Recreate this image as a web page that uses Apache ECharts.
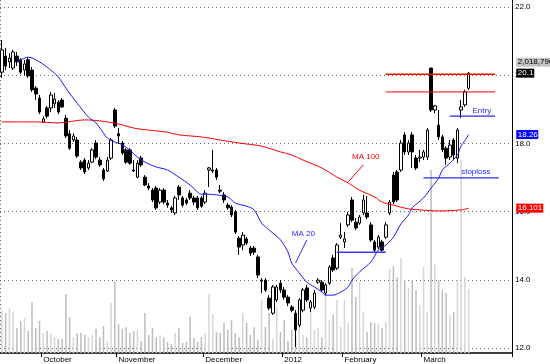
<!DOCTYPE html>
<html><head><meta charset="utf-8">
<script src="https://cdn.jsdelivr.net/npm/echarts@6/dist/echarts.min.js"></script>
<style>html,body{margin:0;padding:0;background:#fff}#c{width:550px;height:364px}</style>
</head><body><div id="c"></div>
<script>
// ---- data ----
const slotCount = 136; // trading-day slots on the x axis (last ones empty)
const categories = Array.from({length: slotCount}, (_, i) => 'd' + i);
const monthIdx = [11, 31, 54, 75, 91, 112];
const monthLabels = ['October', 'November', 'December', '2012', 'February', 'March'];
const yearLineIdx = 75;

const opens = [20.09,20.56,20.39,20.21,20.56,20.45,20.15,20.45,20.15,19.62,19.33,18.63,19.04,19.04,19.16,19.21,19.27,18.74,18.28,18.10,
18.10,17.45,17.51,17.28,17.45,18.01,17.51,17.22,17.19,17.57,18.98,18.28,18.01,17.81,17.81,17.22,17.01,17.57,17.01,16.75,
16.63,16.69,16.28,16.63,16.25,16.11,15.96,16.72,16.40,16.34,16.54,16.40,16.40,16.40,16.28,17.22,17.19,17.22,16.63,16.49,
16.19,16.13,15.99,15.22,15.02,15.20,14.93,14.93,14.67,13.96,13.99,13.46,13.02,13.41,13.90,13.70,13.49,13.20,13.02,12.67,
13.11,13.76,13.17,13.20,13.93,13.93,13.61,13.90,14.64,14.34,15.25,15.11,15.61,16.34,15.69,15.66,15.96,15.96,15.61,15.11,
14.96,15.11,15.25,15.96,17.07,17.16,17.22,18.25,17.75,18.25,17.57,17.57,17.60,17.60,20.21,18.98,18.54,18.19,17.86,17.60,
18.10,17.57,18.98,19.13,19.62];
const closes = [20.74,20.27,20.50,20.68,20.39,20.09,20.33,19.98,19.57,19.45,18.92,18.72,18.80,19.42,19.30,18.92,19.07,18.22,17.86,18.22,
17.63,17.28,17.16,17.42,17.81,17.60,17.37,16.96,17.51,18.10,18.51,18.22,17.72,17.45,17.42,17.19,17.42,17.37,16.78,16.69,
16.34,16.11,16.63,16.28,16.19,16.05,16.40,16.49,16.19,16.25,16.40,16.28,16.11,16.16,16.54,17.28,17.22,17.01,16.60,16.34,
16.11,15.90,15.40,14.96,15.31,15.08,14.78,14.81,14.14,13.99,13.70,13.17,13.79,13.79,13.70,13.49,13.32,13.11,12.53,13.41,
13.70,13.41,13.35,13.61,13.99,13.70,13.85,14.37,14.29,15.02,15.31,15.20,15.90,15.75,15.52,15.84,16.34,15.84,15.17,14.87,
15.25,14.87,15.61,16.28,16.28,16.34,18.01,17.75,18.01,17.75,17.28,17.60,17.75,18.39,18.98,19.10,18.19,17.81,17.57,17.95,
17.66,18.39,19.07,19.51,20.06];
const lows = [19.92,20.15,20.21,20.15,20.27,20.03,20.00,19.92,19.51,19.27,18.86,18.60,18.74,18.92,19.04,18.86,19.04,18.16,17.81,18.04,
17.57,17.22,17.10,17.22,17.42,17.54,17.31,16.90,17.16,17.51,18.45,17.98,17.66,17.40,17.37,17.16,16.98,17.31,16.75,16.63,
16.28,16.05,16.22,16.22,16.11,15.96,15.90,16.34,16.13,16.19,16.34,16.19,16.05,16.11,16.22,16.72,17.13,16.93,16.54,16.25,
16.05,15.84,15.34,14.73,14.87,15.02,14.70,14.73,14.05,13.61,13.64,13.11,12.97,13.35,13.61,13.41,13.23,13.05,12.03,12.61,
13.05,13.35,13.05,13.14,13.88,13.64,13.55,13.85,14.23,14.29,15.20,14.93,15.55,15.69,15.46,15.61,15.90,15.78,15.11,14.81,
14.90,14.81,15.20,15.90,16.22,16.28,17.16,17.66,17.66,17.28,17.22,17.45,17.51,17.51,18.92,18.89,18.10,17.75,17.37,17.51,
17.51,17.42,18.74,19.07,19.57];
const highs = [21.03,20.80,20.65,20.74,20.68,20.50,20.45,20.53,20.24,19.68,19.42,18.80,19.10,19.51,19.48,19.27,19.33,18.83,18.39,18.30,
18.19,17.51,17.57,17.51,17.86,18.10,17.60,17.28,17.60,18.16,19.04,18.45,18.07,17.86,17.86,17.51,17.51,17.63,17.07,16.84,
16.69,16.75,16.69,16.69,16.34,16.16,16.46,16.78,16.46,16.40,16.63,16.46,16.46,16.46,16.63,17.31,17.81,17.28,16.78,16.57,
16.25,16.19,16.05,15.28,15.40,15.25,14.99,14.99,14.73,14.05,14.05,13.55,13.85,13.85,13.99,13.79,13.55,13.26,13.11,13.46,
13.76,13.85,13.41,13.70,14.05,13.99,13.90,14.43,14.73,15.08,15.66,15.40,15.99,16.43,15.81,15.90,16.49,16.46,15.69,15.17,
15.31,15.17,15.69,16.34,17.16,17.22,18.10,18.33,18.10,18.33,17.66,17.81,17.81,18.45,20.21,19.13,18.98,18.25,17.92,18.10,
18.16,18.45,19.27,19.57,20.09];
// volume in millions of shares
const volumes = [1.36,1.26,1.42,1.32,0.79,1.01,1.10,0.69,1.61,0.79,1.01,0.63,0.69,0.60,0.50,0.44,0.44,1.86,1.14,0.50,
0.63,0.63,0.57,0.50,0.57,0.76,0.50,0.85,0.38,1.58,2.24,0.91,0.76,0.82,0.63,0.69,0.73,0.38,1.26,0.57,
0.79,0.50,0.57,0.50,0.35,0.28,0.63,0.79,0.32,0.35,1.14,0.47,0.35,0.50,0.63,1.86,1.23,0.66,0.63,0.95,
0.73,1.04,0.63,0.50,1.26,0.95,0.57,0.82,0.41,1.67,0.82,1.26,0.44,1.45,0.66,1.04,0.38,0.73,0.50,1.04,
0.57,0.50,1.26,0.73,0.79,0.50,1.89,1.04,1.20,1.67,0.82,1.67,0.95,2.68,1.77,2.24,1.29,0.66,0.98,0.95,
0.91,0.79,0.98,2.65,2.74,2.40,3.00,2.30,2.05,2.30,1.99,1.51,2.71,1.29,5.77,2.78,2.30,1.99,1.89,1.20,
1.29,2.30,6.09,2.40,2.01879];
const volumeAxisMax = 11.134;

const ma20Idx = [4,7,10,13,15,17,20,23,25,27,28,30,31,33,36,38,41,44,47,50,52,53,55,57,60,62,65,67,69,71,74,76,77,79,81,83,85,86,88,90,92,93,95,98,100,102,104,106,108,109,112,114,116,117,119,121,122,123,124];
const ma20Val = [20.39,20.53,20.39,20.15,19.95,19.62,19.18,18.77,18.60,18.30,18.16,18.04,18.01,17.89,17.60,17.45,17.31,17.22,17.01,16.78,16.57,16.51,16.51,16.49,16.43,16.25,16.16,16.05,15.66,15.46,15.17,14.81,14.49,14.20,13.93,13.79,13.64,13.55,13.55,13.64,13.79,13.99,14.23,14.52,14.87,15.02,15.25,15.64,15.90,16.11,16.40,16.69,16.98,17.22,17.42,17.66,17.93,18.08,18.26];
const ma100Idx = [0,9,15,22,26,31,35,39,44,47,53,58,63,69,74,77,80,85,89,92,95,99,101,104,106,108,111,116,122,124];
const ma100Val = [18.63,18.63,18.60,18.69,18.66,18.57,18.45,18.39,18.33,18.25,18.19,18.10,18.01,17.92,17.75,17.66,17.51,17.28,17.01,16.84,16.63,16.43,16.28,16.19,16.13,16.08,16.05,16.02,16.05,16.101];

const priceMin = 12, priceMax = 22, priceStep = 2;

// drawn level lines: [fromIdx, toIdx, value, colour, width]
const levelLines = [
  [102.3, 131.0, 20.03, '#ff0000', 1.4],
  [102.3, 131.3, 19.51, '#ff0000', 1],
  [119.3, 131.2, 18.80, '#2a2aff', 1.2],
  [112.4, 132.0, 16.99, '#2a2aff', 1.2],
  [88.5, 102.3, 14.81, '#3a3aff', 1.6]
];
// leader lines: [x1, v1, x2, v2, colour]
const leaderLines = [
  [77.9, 14.49, 80.5, 15.17, '#2a2aff'],
  [91.9, 16.87, 95.6, 17.37, '#ff0000']
];
// text notes: [text, idx, value, colour]
const notes = [
  ['MA 20', 76.5, 15.34, '#2a2aff'],
  ['MA 100', 92.5, 17.61, '#ff0000'],
  ['Entry', 125.1, 18.96, '#2a2aff'],
  ['stoploss', 122.2, 17.16, '#2a2aff']
];

const FONT = '"Liberation Sans", Arial, sans-serif';
const chart = echarts.init(document.getElementById('c'), null, {renderer: 'canvas'});

const candleData = opens.map((o, i) => [o, closes[i], lows[i], highs[i]]);
const volData = volumes.map((v, i) => ({value: v, itemStyle: {color: closes[i] >= opens[i] ? '#d6d6d6' : '#bdbdbd'}}));

const series = [
  {type: 'bar', xAxisIndex: 1, yAxisIndex: 1, data: volData, barWidth: 1.5, z: 1, silent: true},
  {type: 'candlestick', xAxisIndex: 0, yAxisIndex: 0, data: candleData, barWidth: 3, z: 3,
   itemStyle: {color: '#ffffff', color0: '#000000', borderColor: '#000000', borderColor0: '#000000', borderWidth: 1}},
  {type: 'line', xAxisIndex: 0, yAxisIndex: 0, data: ma100Idx.map((x, i) => [x, ma100Val[i]]), smooth: 0.3,
   symbol: 'none', lineStyle: {color: '#ff0000', width: 1}, z: 4},
  {type: 'line', xAxisIndex: 0, yAxisIndex: 0, data: ma20Idx.map((x, i) => [x, ma20Val[i]]), smooth: 0.3,
   symbol: 'none', lineStyle: {color: '#1a1aff', width: 1}, z: 4}
];
levelLines.forEach(l => series.push({type: 'line', xAxisIndex: 0, yAxisIndex: 0, data: [[l[0], l[2]], [l[1], l[2]]],
  symbol: 'none', lineStyle: {color: l[3], width: l[4]}, z: 6, silent: true, clip: false}));
leaderLines.forEach(l => series.push({type: 'line', xAxisIndex: 0, yAxisIndex: 0, data: [[l[0], l[1]], [l[2], l[3]]],
  symbol: 'none', lineStyle: {color: l[4], width: 1}, z: 5, silent: true}));

const option = {
  animation: false,
  backgroundColor: '#ffffff',
  grid: [
    {left: 0, right: 38, top: 7, bottom: 16},
    {left: 0, right: 38, top: 0, bottom: 11}
  ],
  xAxis: [
    {type: 'category', gridIndex: 0, data: categories, boundaryGap: true, show: false},
    {type: 'category', gridIndex: 1, data: categories, boundaryGap: true,
     axisLine: {show: true, lineStyle: {color: '#000', width: 1.5}},
     axisTick: {show: true, interval: (i) => monthIdx.includes(i), length: 4, lineStyle: {color: '#000'}},
     axisLabel: {interval: (i) => monthIdx.includes(i), formatter: (v, i) => {const k = monthIdx.indexOf(i); return k >= 0 ? monthLabels[k] : '';},
       align: 'left', margin: 3, fontSize: 8, color: '#000', fontFamily: FONT},
     splitLine: {show: true, interval: (i) => i === yearLineIdx, lineStyle: {color: '#666', type: [1, 3], width: 1}}}
  ],
  yAxis: [
    {type: 'value', gridIndex: 0, position: 'right', min: priceMin, max: priceMax, interval: priceStep,
     axisLine: {show: false}, axisTick: {show: false},
     axisLabel: {formatter: v => v.toFixed(1), color: '#000', fontSize: 8, fontFamily: FONT, margin: 3},
     splitLine: {show: true, lineStyle: {color: '#666', type: [1, 3], width: 1}}},
    {type: 'value', gridIndex: 1, position: 'right', min: 0, max: volumeAxisMax,
     axisLine: {show: true, lineStyle: {color: '#000', width: 1}}, axisTick: {show: false},
     axisLabel: {show: false}, splitLine: {show: false}}
  ],
  series: series
};
chart.setOption(option);

// text notes and right-hand value labels, positioned through the axes
const toPx = (i, v) => chart.convertToPixel({gridIndex: 0}, [i, v]);
const graphics = [];
notes.forEach(n => {
  const p = toPx(n[1], n[2]);
  graphics.push({type: 'text', x: p[0], y: p[1], z: 100,
    style: {text: n[0], fill: n[3], font: '8px ' + FONT, textAlign: 'left', textVerticalAlign: 'middle', align: 'left', verticalAlign: 'middle'}});
});
const rightX = toPx(slotCount - 0.5, priceMin)[0] + 0.5 * (toPx(1, priceMin)[0] - toPx(0, priceMin)[0]);
function valueTag(text, yPix, bg, fg, w) {
  graphics.push({type: 'rect', z: 100, shape: {x: rightX + 0.5, y: yPix - 4.5, width: w, height: 9}, style: {fill: bg}});
  graphics.push({type: 'text', z: 101, x: rightX + 2, y: yPix,
    style: {text: text, fill: fg, font: '8px ' + FONT, textAlign: 'left', textVerticalAlign: 'middle', align: 'left', verticalAlign: 'middle'}});
}
const last = opens.length - 1;
const closeY = toPx(last, closes[last])[1];
function fmtInt(n) { return String(Math.round(n)).replace(/\B(?=(\d{3})+(?!\d))/g, ','); }
valueTag(fmtInt(volumes[last] * 1e6), closeY - 11, '#c4c4c4', '#000', 40);
valueTag(closes[last].toFixed(1), closeY, '#000000', '#ffffff', 18);
valueTag(ma20Val[ma20Val.length - 1].toFixed(2), toPx(last, ma20Val[ma20Val.length - 1])[1], '#0000ff', '#ffffff', 22);
valueTag(String(ma100Val[ma100Val.length - 1]), toPx(last, ma100Val[ma100Val.length - 1])[1], '#ff0000', '#ffffff', 27);
chart.setOption({graphic: graphics});
</script>
</body></html>
